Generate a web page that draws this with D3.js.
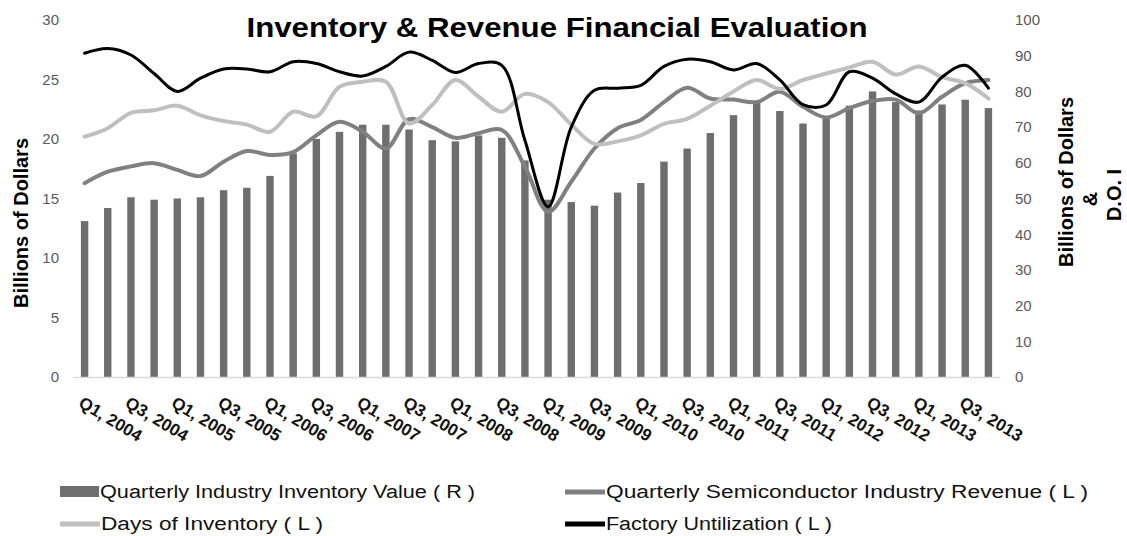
<!DOCTYPE html>
<html>
<head>
<meta charset="utf-8">
<script src="https://cdn.jsdelivr.net/npm/d3@7"></script>
<style>
  body { margin: 0; background: #fff; }
  svg { display: block; font-family: Arial, "Liberation Sans", sans-serif; }
</style>
</head>
<body>
<div id="chart"></div>
<script>
// categories
var years = [2004, 2005, 2006, 2007, 2008, 2009, 2010, 2011, 2012, 2013];
var qNames = ["Q1", "Q2", "Q3", "Q4"];
var quarters = [];
years.forEach(function(y) {
    qNames.forEach(function(q) { quarters.push(q + ", " + y); });
});

// bars, billions of dollars
var inventory = [13.1, 14.2, 15.1, 14.9, 15.0, 15.1, 15.7, 15.9, 16.9, 18.8,
                 20.0, 20.6, 21.2, 21.2, 20.8, 19.9, 19.8, 20.3, 20.1, 18.2,
                 14.9, 14.7, 14.4, 15.5, 16.3, 18.1, 19.2, 20.5, 22.0, 23.1,
                 22.35, 21.3, 21.7, 22.8, 24.0, 23.1, 22.4, 22.9, 23.3, 22.6];

// lines, read on the 0-100 axis
var revenue = [54.3, 57.5, 59.0, 59.9, 58.0, 56.3, 60.3, 63.3, 62.2, 63.0,
               67.7, 71.5, 68.7, 64.0, 72.2, 70.0, 67.0, 68.3, 69.2, 58.9,
               46.3, 54.7, 64.0, 69.7, 72.0, 77.0, 81.0, 78.0, 77.7, 77.0,
               79.9, 75.7, 72.7, 75.3, 77.3, 77.7, 73.9, 78.5, 82.3, 83.2];
var daysInv = [67.3, 69.7, 74.0, 74.7, 76.0, 73.3, 71.7, 70.7, 68.7, 74.3,
               73.0, 81.3, 82.7, 82.7, 71.0, 76.2, 83.2, 78.5, 74.3, 79.3,
               77.0, 70.7, 65.3, 66.0, 67.7, 70.9, 72.3, 76.0, 80.0, 83.2,
               80.7, 83.2, 85.0, 86.7, 88.3, 84.7, 87.0, 84.0, 82.3, 78.0];
var factory = [90.7, 92.0, 90.2, 85.0, 80.0, 83.7, 86.3, 86.3, 85.5, 88.3,
               87.8, 85.5, 84.3, 87.0, 91.0, 88.7, 85.3, 87.8, 87.3, 66.3,
               47.7, 70.0, 80.3, 80.9, 81.7, 87.0, 89.0, 88.3, 86.0, 87.8,
               83.2, 76.3, 76.2, 85.5, 83.7, 79.3, 77.0, 84.0, 87.3, 80.9];

var leftTicks = [0, 5, 10, 15, 20, 25, 30];
var rightTicks = [0, 10, 20, 30, 40, 50, 60, 70, 80, 90, 100];

var width = 1127, height = 536;
var margin = {top: 20, right: 127, bottom: 159, left: 73};

var svg = d3.select("#chart")
    .append("svg")
    .attr("width", width)
    .attr("height", height);

var x = d3.scaleBand()
    .domain(quarters)
    .range([margin.left, width - margin.right])
    .paddingInner(0.68)
    .paddingOuter(0.34);

var yL = d3.scaleLinear().domain([0, 30]).range([height - margin.bottom, margin.top]);
var yR = d3.scaleLinear().domain([0, 100]).range([height - margin.bottom, margin.top]);

// title
svg.append("text")
    .attr("x", 557)
    .attr("y", 37)
    .attr("text-anchor", "middle")
    .attr("font-size", 28)
    .attr("font-weight", "bold")
    .attr("fill", "#000")
    .attr("textLength", 621)
    .attr("lengthAdjust", "spacingAndGlyphs")
    .text("Inventory & Revenue Financial Evaluation");

// left axis
var gL = svg.append("g")
    .attr("transform", "translate(" + (margin.left - 14) + ",0)")
    .call(d3.axisLeft(yL).tickValues(leftTicks).tickSize(0).tickPadding(0));
gL.select(".domain").remove();
gL.selectAll("text").attr("font-size", 15).attr("fill", "#595959").attr("font-family", null);

// right axis
var gR = svg.append("g")
    .attr("transform", "translate(1015,0)")
    .call(d3.axisRight(yR).tickValues(rightTicks).tickSize(0).tickPadding(0));
gR.select(".domain").remove();
gR.selectAll("text").attr("font-size", 15).attr("fill", "#595959").attr("font-family", null);

// axis titles
svg.append("text")
    .attr("transform", "translate(28,223) rotate(-90)")
    .attr("text-anchor", "middle")
    .attr("font-size", 20)
    .attr("font-weight", "bold")
    .text("Billions of Dollars");

var rTitle = [["Billions of Dollars", 1073, 182], ["&", 1097, 199], ["D.O. I", 1121, 195]];
rTitle.forEach(function(t) {
    svg.append("text")
        .attr("transform", "translate(" + t[1] + "," + t[2] + ") rotate(-90)")
        .attr("text-anchor", "middle")
        .attr("font-size", 20)
        .attr("font-weight", "bold")
        .text(t[0]);
});

// bars
svg.append("g")
    .selectAll("rect")
    .data(inventory)
    .enter().append("rect")
    .attr("x", function(d, i) { return x(quarters[i]); })
    .attr("width", x.bandwidth())
    .attr("y", function(d) { return yL(d); })
    .attr("height", function(d) { return yL(0) - yL(d); })
    .attr("fill", "#6e6e6e");

// x axis
var gX = svg.append("g")
    .attr("transform", "translate(0," + yL(0) + ")")
    .call(d3.axisBottom(x)
        .tickValues(quarters.filter(function(q) { return q[1] === "1" || q[1] === "3"; }))
        .tickSize(0));
gX.select(".domain").attr("stroke", "#d9d9d9").attr("stroke-width", 1.5);
gX.selectAll(".tick text")
    .attr("font-family", null)
    .attr("font-size", 17)
    .attr("font-weight", "bold")
    .attr("fill", "#111")
    .attr("text-anchor", "start")
    .attr("dy", 0)
    .attr("y", 0)
    .attr("transform", "translate(-7,29) rotate(31)");

// lines
var line = d3.line()
    .x(function(d, i) { return x(quarters[i]) + x.bandwidth() / 2; })
    .y(function(d) { return yR(d); })
    .curve(d3.curveCatmullRom.alpha(0.5));

var series = [
    {values: revenue, color: "#808080", w: 4},
    {values: daysInv, color: "#bfbfbf", w: 4},
    {values: factory, color: "#000000", w: 3}
];
series.forEach(function(s) {
    svg.append("path")
        .datum(s.values)
        .attr("fill", "none")
        .attr("stroke", s.color)
        .attr("stroke-width", s.w)
        .attr("stroke-linejoin", "round")
        .attr("stroke-linecap", "round")
        .attr("d", line);
});

// legend
var legend = [
    {label: "Quarterly Industry Inventory Value ( R )", type: "bar", color: "#6e6e6e", x: 60, y: 498, len: 375},
    {label: "Quarterly Semiconductor Industry Revenue ( L )", type: "line", color: "#808080", x: 565, y: 498, len: 482},
    {label: "Days of Inventory ( L )", type: "line", color: "#bfbfbf", x: 60, y: 530, len: 222},
    {label: "Factory Untilization ( L )", type: "line", color: "#000000", x: 565, y: 530, len: 226}
];
var lg = svg.append("g").selectAll("g")
    .data(legend)
    .enter().append("g")
    .attr("transform", function(d) { return "translate(" + d.x + "," + d.y + ")"; });

lg.filter(function(d) { return d.type === "bar"; })
    .append("rect")
    .attr("x", 0).attr("y", -12)
    .attr("width", 39).attr("height", 11)
    .attr("fill", function(d) { return d.color; });

lg.filter(function(d) { return d.type === "line"; })
    .append("line")
    .attr("x1", 0).attr("x2", 40)
    .attr("y1", -6).attr("y2", -6)
    .attr("stroke", function(d) { return d.color; })
    .attr("stroke-width", 5);

lg.append("text")
    .attr("x", function(d) { return d.type === "bar" ? 40 : 41; })
    .attr("font-size", 18)
    .attr("fill", "#111")
    .attr("textLength", function(d) { return d.len; })
    .attr("lengthAdjust", "spacingAndGlyphs")
    .text(function(d) { return d.label; });
</script>
</body>
</html>
